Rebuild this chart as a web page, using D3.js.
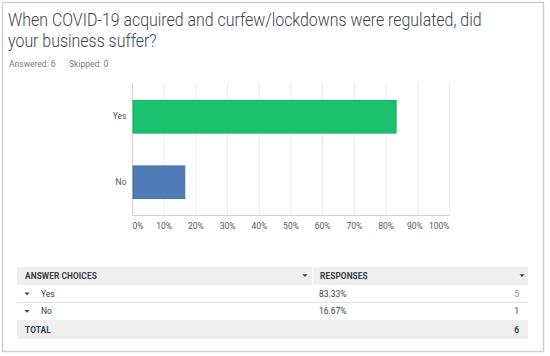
<!DOCTYPE html>
<html>
<head>
<meta charset="utf-8">
<script src="https://cdn.jsdelivr.net/npm/d3@7"></script>
<style>
  body { margin: 0; background: #fff; }
  text { font-family: Roboto, "Open Sans", sans-serif; }
</style>
</head>
<body>
<div id="chart"></div>
<script>
// --- Données ---
const categories = ["Yes", "No"];
const percents = [83.33, 16.67];
const counts = [5, 1];
const total = 6;
const skipped = 0;
const ticks = [0, 10, 20, 30, 40, 50, 60, 70, 80, 90, 100];
const barColors = ["#19c16f", "#4f7cb7"];
const barStroke = ["#12a85e", "#41699e"];

const width = 550;
const height = 356;

const svg = d3.select("#chart")
  .append("svg")
  .attr("width", width)
  .attr("height", height);

// --- Cadre ---
svg.append("rect")
  .attr("x", 2.5).attr("y", 2.5)
  .attr("width", 541).attr("height", 349)
  .attr("fill", "#fff")
  .attr("stroke", "#cfcfcf")
  .attr("stroke-width", 1.5);

// --- Titre (police plus étroite : on compresse horizontalement) ---
const title = svg.append("text")
  .attr("transform", "translate(8,0) scale(0.885,1)")
  .attr("fill", "#3a444d")
  .style("font-size", "18px")
  .style("font-weight", 300);
title.append("tspan").attr("x", 0).attr("y", 26)
  .text("When COVID-19 acquired and curfew/lockdowns were regulated, did");
title.append("tspan").attr("x", 0).attr("y", 47)
  .text("your business suffer?");

svg.append("text")
  .attr("x", 9).attr("y", 66.5)
  .attr("fill", "#7a7a7a")
  .style("font-size", "8.5px")
  .text(`Answered: ${total}`);
svg.append("text")
  .attr("x", 69).attr("y", 66.5)
  .attr("fill", "#7a7a7a")
  .style("font-size", "8.5px")
  .text(`Skipped: ${skipped}`);

// --- Échelles ---
const x = d3.scaleLinear().domain([0, 100]).range([132, 449]);
const y = d3.scaleBand().domain(categories).range([84, 215])
  .paddingInner(0.5).paddingOuter(0.25);

// --- Grille ---
svg.append("g")
  .selectAll("line")
  .data(ticks.slice(1))
  .join("line")
  .attr("x1", d => x(d) + 0.5).attr("x2", d => x(d) + 0.5)
  .attr("y1", 83).attr("y2", 215)
  .attr("stroke", "#ebebeb");

// --- Axes ---
const xAxis = svg.append("g")
  .attr("transform", "translate(0,215)")
  .call(d3.axisBottom(x).tickValues(ticks).tickSize(0).tickPadding(8)
    .tickFormat(d => d + "%"));
xAxis.select(".domain").attr("stroke", "#d0d0d0");
xAxis.selectAll("text").attr("fill", "#555").style("font-size", "8.5px");
// premier et dernier libellés gardés dans la zone
xAxis.selectAll(".tick text")
  .attr("text-anchor", d => d === 0 ? "start" : d === 100 ? "end" : "middle")
  .attr("dx", d => d === 90 ? -3 : 0);

const yAxis = svg.append("g")
  .attr("transform", "translate(132.5,0)")
  .call(d3.axisLeft(y).tickSize(0).tickPadding(6));
yAxis.select(".domain").attr("stroke", "#d0d0d0").attr("d", "M0,83V215");
yAxis.selectAll("text").attr("fill", "#555").style("font-size", "8.5px");

// --- Barres ---
svg.append("g")
  .selectAll("rect")
  .data(categories)
  .join("rect")
  .attr("x", x(0) + 1)
  .attr("y", d => y(d))
  .attr("width", (d, i) => x(percents[i]) - x(0) - 1)
  .attr("height", y.bandwidth())
  .attr("fill", (d, i) => barColors[i])
  .attr("stroke", (d, i) => barStroke[i])
  .attr("stroke-width", 0.8);

// --- Tableau ---
const tx0 = 17, tx1 = 528, colX = 313;
const rows = [
  { y: 267, h: 18, bg: "#efefef" },
  { y: 285, h: 17.5, bg: "#fff" },
  { y: 302.5, h: 17.5, bg: "#fff" },
  { y: 320, h: 19, bg: "#efefef" }
];
const table = svg.append("g");
table.selectAll("rect")
  .data(rows)
  .join("rect")
  .attr("x", tx0).attr("y", d => d.y)
  .attr("width", tx1 - tx0).attr("height", d => d.h)
  .attr("fill", d => d.bg);

table.append("line")
  .attr("x1", tx0).attr("x2", tx1)
  .attr("y1", 302.5).attr("y2", 302.5)
  .attr("stroke", "#e2e2e2");
table.append("line")
  .attr("x1", colX).attr("x2", colX)
  .attr("y1", 267).attr("y2", 285)
  .attr("stroke", "#fff").attr("stroke-width", 1.5);

const arrow = (cx, cy, color) => table.append("path")
  .attr("d", `M${cx - 2.5},${cy - 1.3}L${cx + 2.5},${cy - 1.3}L${cx},${cy + 1.5}Z`)
  .attr("fill", color);

const headStyle = s => s.attr("fill", "#333e48").style("font-size", "8.3px")
  .style("font-weight", "bold").style("letter-spacing", "0.1px");

headStyle(table.append("text").attr("x", 25).attr("y", 279).text("ANSWER CHOICES"));
headStyle(table.append("text").attr("x", 320).attr("y", 279).text("RESPONSES"));
arrow(305, 275.5, "#333e48");
arrow(522, 275.5, "#333e48");

categories.forEach((c, i) => {
  const cy = rows[i + 1].y + rows[i + 1].h / 2;
  arrow(27, cy, "#333e48");
  table.append("text").attr("x", 41).attr("y", cy + 3)
    .attr("fill", "#333e48").style("font-size", "8.5px").text(c);
  table.append("text").attr("x", 319).attr("y", cy + 3)
    .attr("fill", "#333e48").style("font-size", "8.5px")
    .text(percents[i].toFixed(2) + "%");
  table.append("text").attr("x", 519).attr("y", cy + 3)
    .attr("text-anchor", "end")
    .attr("fill", i === 0 ? "#8a8a8a" : "#333e48").style("font-size", "8.5px")
    .text(counts[i]);
});

headStyle(table.append("text").attr("x", 25).attr("y", 333).text("TOTAL"));
headStyle(table.append("text").attr("x", 519).attr("y", 333)
  .attr("text-anchor", "end").text(total));
</script>
</body>
</html>
